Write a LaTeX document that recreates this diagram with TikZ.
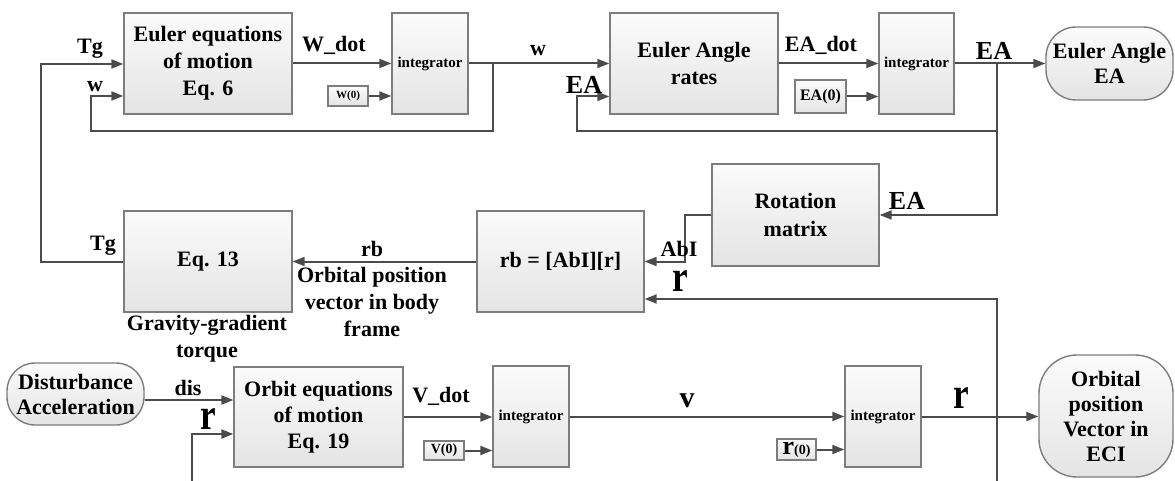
\documentclass[tikz,border=0pt]{standalone}
\usepackage{fontspec}
\setmainfont{Liberation Serif}
\usetikzlibrary{arrows.meta}
\definecolor{linec}{RGB}{75,75,75}
\definecolor{borderc}{RGB}{125,125,125}
\definecolor{topc}{RGB}{251,251,251}
\definecolor{botc}{RGB}{228,228,228}
\tikzset{
  blk/.style={draw=borderc, line width=1.4pt, top color=topc, bottom color=botc,
    align=center, inner sep=0pt, font=\fontsize{22}{27}\selectfont\bfseries},
  bigbox/.style={blk, minimum width=168pt, minimum height=101pt},
  intg/.style={blk, minimum width=76pt, minimum height=101pt, font=\fontsize{15}{18}\selectfont\bfseries},
  termbox/.style={blk, font=\fontsize{22}{25}\selectfont\bfseries},
  icbox/.style={draw=borderc, line width=1.2pt, top color=topc, bottom color=botc, inner sep=0pt},
  conn/.style={draw=linec, line width=2pt, -{Triangle[length=12pt,width=9pt]}},
  lbl/.style={inner sep=0pt, align=center, font=\fontsize{22}{27}\selectfont\bfseries},
  lblA/.style={inner sep=0pt, font=\fontsize{26}{30}\selectfont\bfseries},
  lblV/.style={inner sep=0pt, font=\fontsize{30}{30}\selectfont\bfseries},
  lblR/.style={inner sep=0pt, font=\fontsize{44}{44}\selectfont\bfseries},
}
\newcommand{\myrr}{\scalebox{0.8}[1]{r}}
\begin{document}
\begin{tikzpicture}[x=1pt,y=-1pt]
\useasboundingbox (0,0) rectangle (1175,481);
% ---- blocks
\node[bigbox] (eul) at (208,63.5) {Euler equations\\of motion\\Eq. 6};
\node[intg] (int1) at (430,63.5) {integrator};
\node[bigbox] (ear) at (694,63.5) {Euler Angle\\rates};
\node[intg, minimum width=75pt] (int2) at (916.5,63.5) {integrator};
\node[termbox, minimum width=127pt, minimum height=73pt, rounded corners=30pt] (eaterm) at (1109.5,63.5) {Euler Angle\\EA};
\node[icbox, minimum width=40pt, minimum height=20pt, font=\fontsize{11}{12}\selectfont\bfseries] (w0) at (348,96) {W(0)};
\node[icbox, minimum width=51pt, minimum height=33pt, font=\fontsize{16}{18}\selectfont\bfseries] (ea0) at (820.5,96.5) {EA(0)};
\node[bigbox, minimum width=167pt, minimum height=102pt, font=\fontsize{22}{28}\selectfont\bfseries] (rot) at (795.5,215) {Rotation\\matrix};
\node[bigbox, minimum width=167pt] (rbb) at (560.5,261.5) {rb = [AbI][r]};
\node[bigbox] (eq13) at (208,261.5) {Eq. 13};
\node[termbox, minimum width=137pt, minimum height=62pt, rounded corners=28pt] (dist) at (75.5,394) {Disturbance\\Acceleration};
\node[bigbox, minimum width=169pt, minimum height=100pt, font=\fontsize{22}{26}\selectfont\bfseries] (orb) at (318.5,417) {Orbit equations\\of motion\\Eq. 19};
\node[intg] (int3) at (531,416.5) {integrator};
\node[intg] (int4) at (883,416.5) {integrator};
\node[icbox, minimum width=40pt, minimum height=19pt, font=\fontsize{14}{16}\selectfont\bfseries] (v0) at (444,450.5) {V(0)};
\node[icbox, minimum width=39pt, minimum height=21pt, font=\fontsize{14}{16}\selectfont\bfseries] (r0) at (796.5,449.5) {{\fontsize{26}{26}\selectfont r}(0)};
\node[termbox, minimum width=134pt, minimum height=122pt, rounded corners=38pt] (orbterm) at (1106,416) {Orbital\\position\\Vector in\\ECI};
% ---- helper coordinates
\coordinate (wb) at (493,63.5);
\coordinate (wfb) at (91,131);
\coordinate (eab) at (997,63.5);
\coordinate (eafb) at (577,131);
\coordinate (tgc) at (41,64);
\coordinate (ry) at (0,299);
\coordinate (rbot) at (997,481);
\coordinate (dy) at (0,400);
\coordinate (ry2) at (0,434);
\coordinate (rbot2) at (192,481);
% ---- connectors
\draw[conn] (eul.east) -- (int1.west);
\draw[conn] (w0.east) -- (int1.west |- w0.east);
\draw[conn] (int1.east) -- (ear.west);
\draw[conn] (wb) |- (wfb) |- (eul.west |- w0.east);
\draw[conn] (ear.east) -- (int2.west);
\draw[conn] (ea0.east) -- (int2.west |- ea0.east);
\draw[conn] (int2.east) -- (eaterm.west);
\draw[conn] (eab) |- (eafb) |- (ear.west |- ea0.east);
\draw[conn] (eab) |- (rot.east);
\draw[conn] (rot.west) -- ++(-26,0) |- (rbb.east);
\draw[conn] (rbot) |- (rbb.east |- ry);
\draw[conn] (rbb.west) -- (eq13.east);
\draw[conn] (eq13.west) -- (tgc |- eq13.west) -- (tgc) -- (eul.west |- tgc);
\draw[conn] (dist.east |- dy) -- (orb.west |- dy);
\draw[conn] (rbot2) |- (orb.west |- ry2);
\draw[conn] (orb.east) -- (int3.west |- orb.east);
\draw[conn] (v0.east) -- (int3.west |- v0.east);
\draw[conn] (int3.east) -- (int4.west);
\draw[conn] (r0.east) -- (int4.west |- r0.east);
\draw[conn] (int4.east) -- (orbterm.west |- int4.east);
% ---- labels
\node[lbl] (lTg1) at (90,49) {Tg};
\node[lbl] (lw1) at (95,87) {w};
\node[lbl] (lWdot) at (334,45) {W\_dot};
\node[lbl] (lw2) at (538,51) {w};
\node[lblA] (lEA1) at (584,85) {EA};
\node[lbl] (lEAdot) at (821,45) {EA\_dot};
\node[lblA] (lEA2) at (994,51) {EA};
\node[lblA] (lEA3) at (907,201) {EA};
\node[lbl] (lAbI) at (679,249) {AbI};
\node[lblR] (lr1) at (680,281) {\myrr};
\node[lbl] (lrb) at (372,249) {rb};
\node[lbl] (lorbpos) at (372,302) {Orbital position\\vector in body\\frame};
\node[lbl] (lTg2) at (103,246) {Tg};
\node[lbl] (lgg) at (207,339) {Gravity-gradient\\torque};
\node[lbl] (ldis) at (188,388) {dis};
\node[lblR] (lr2) at (208,419) {\myrr};
\node[lbl] (lVdot) at (441,396) {V\_dot};
\node[lblV] (lv) at (687,401) {v};
\node[lblR] (lr3) at (961,398) {\myrr};
\end{tikzpicture}
\end{document}
